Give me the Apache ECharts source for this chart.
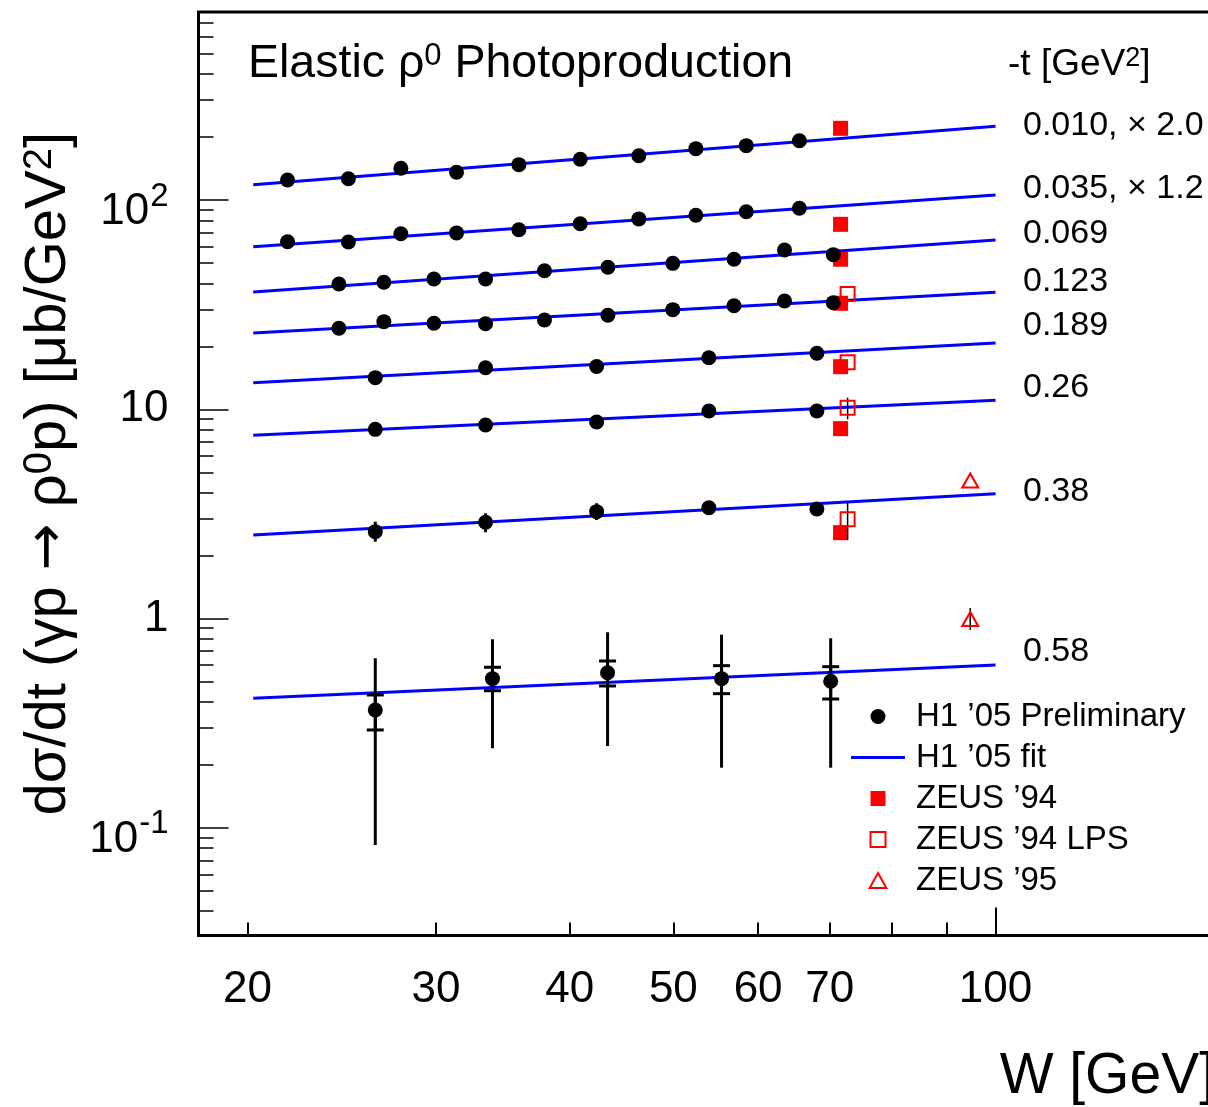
<!DOCTYPE html>
<html>
<head>
<meta charset="utf-8">
<title>Elastic rho0 photoproduction</title>
<script src="https://cdn.jsdelivr.net/npm/echarts@6.0.0/dist/echarts.min.js"></script>
<style>
html, body { margin: 0; padding: 0; background: #ffffff; }
#chart { width: 1208px; height: 1107px; }
</style>
</head>
<body>
<div id="chart"></div>
<script>
// ---------------- data ----------------
// W bins [GeV]
const wBinsA = [21.80, 24.85, 27.82, 31.36, 35.86, 40.92, 46.42, 52.48, 58.49, 65.57];
const wBinsB = [24.35, 26.82, 29.87, 33.38, 37.89, 43.43, 49.94, 56.97, 63.51, 70.54];
const wBinsC = [26.33, 33.38, 42.39, 53.97, 68.09];
const wBinsD = [26.33, 33.88, 43.40, 55.46, 70.14];

// H1 '05 preliminary dsigma/dt [mub/GeV^2] as plotted (first two bins scaled)
const h1_t010 = [124.6, 126.4, 141.7, 135.6, 147.5, 156.5, 162.8, 175.9, 181.8, 192.0];
const h1_t035 = [63.2, 63.0, 69.0, 69.6, 72.1, 77.0, 81.2, 84.5, 87.9, 91.3];
const h1_t069 = [39.7, 40.45, 41.9, 41.9, 45.9, 47.7, 49.8, 52.1, 57.7, 54.8];
const h1_t123 = [24.38, 26.22, 25.76, 25.64, 26.71, 28.12, 29.92, 31.26, 32.93, 32.31];
const h1_t189 = [14.16, 15.80, 16.0, 17.64, 18.52];
const h1_t260 = [8.02, 8.41, 8.69, 9.81, 9.81];
const h1_t380 = [2.602, 2.885, 3.242, 3.387, 3.339];
const h1_t580 = [0.3659, 0.5162, 0.5513, 0.5162, 0.5016];

// error bars
const h1_t380_lo = [2.330, 2.585, 2.959, 3.16, 3.13];
const h1_t380_hi = [2.904, 3.185, 3.555, 3.62, 3.57];
const h1_t580_statLo = [0.2936, 0.4521, 0.4764, 0.4378, 0.4128];
const h1_t580_statHi = [0.4315, 0.5853, 0.6271, 0.5957, 0.5890];
const h1_t580_totLo = [0.0828, 0.2401, 0.2461, 0.1939, 0.1939];
const h1_t580_totHi = [0.6460, 0.7962, 0.8601, 0.8378, 0.8051];

// H1 '05 fits: value at W = fitW[0] and W = fitW[1]
const fitW = [20.25, 100];
const fitStart = [118.3, 59.8, 36.35, 23.15, 13.40, 7.51, 2.508, 0.416];
const fitEnd = [224.9, 105.6, 64.4, 36.2, 20.74, 11.03, 3.953, 0.600];

// ZEUS points
const zeus94W = 71.65;
const zeus94 = [220.0, 76.5, 52.1, 32.1, 15.98, 8.08, 2.573];
const zeus94LpsW = 72.74;
const zeus94Lps = [35.56, 16.77, 10.18, 2.982];
const zeus94LpsLo = [null, null, 8.96, 2.375];
const zeus94LpsHi = [null, null, 11.36, 3.595];
const zeus95W = 94.7;
const zeus95 = [4.569, 0.9956];
const zeus95Lo = [null, 0.882];
const zeus95Hi = [null, 1.124];

// -t bin labels
const tHeader = ['-t [GeV', '2', ']'];
const tLabels = ['0.010, × 2.0', '0.035, × 1.2', '0.069', '0.123', '0.189', '0.26', '0.38', '0.58'];

// axis ticks and labels
const xMinorTicks = [20, 30, 40, 50, 60, 70, 80, 90];
const xMajorTicks = [100];
const xLabelValues = [20, 30, 40, 50, 60, 70, 100];
const yMajorTicks = [0.1, 1, 10, 100];
const yMajorBase = ['10', '1', '10', '10'];
const yMajorExp = ['-1', '', '', '2'];
const yMinorTicks = [0.04, 0.05, 0.06, 0.07, 0.08, 0.09,
  0.2, 0.3, 0.4, 0.5, 0.6, 0.7, 0.8, 0.9,
  2, 3, 4, 5, 6, 7, 8, 9,
  20, 30, 40, 50, 60, 70, 80, 90,
  200, 300, 400, 500, 600, 700, 800];

// legend names
const NAME_H1 = 'H1 ’05 Preliminary';
const NAME_FIT = 'H1 ’05 fit';
const NAME_Z94 = 'ZEUS ’94';
const NAME_LPS = 'ZEUS ’94 LPS';
const NAME_Z95 = 'ZEUS ’95';

// ---------------- layout / style ----------------
const FONT = '"Liberation Sans", Arial, Helvetica, sans-serif';
const ARROW_FONT = '"DejaVu Sans", sans-serif';
const BLACK = '#000000', BLUE = '#0000ff', RED = '#ff0000';
const tLabelY = [126, 189, 234, 282, 326, 388, 492, 652];

const h1Rows = [
  [wBinsA, h1_t010], [wBinsA, h1_t035], [wBinsB, h1_t069], [wBinsB, h1_t123],
  [wBinsC, h1_t189], [wBinsC, h1_t260], [wBinsC, h1_t380], [wBinsD, h1_t580]
];
const h1Points = [];
h1Rows.forEach(r => r[0].forEach((w, i) => h1Points.push([w, r[1][i]])));

const errTotal = [];
wBinsC.forEach((w, i) => errTotal.push([w, h1_t380_lo[i], h1_t380_hi[i]]));
wBinsD.forEach((w, i) => errTotal.push([w, h1_t580_totLo[i], h1_t580_totHi[i]]));
const errStat = wBinsD.map((w, i) => [w, h1_t580_statLo[i], h1_t580_statHi[i]]);
const errThin = [];
zeus94Lps.forEach((v, i) => { if (zeus94LpsLo[i] != null) errThin.push([zeus94LpsW, zeus94LpsLo[i], zeus94LpsHi[i]]); });
zeus95.forEach((v, i) => { if (zeus95Lo[i] != null) errThin.push([zeus95W, zeus95Lo[i], zeus95Hi[i]]); });

function errorBars(data, width, cap, z) {
  return {
    type: 'custom', silent: true, z: z, data: data,
    encode: { x: 0, y: [1, 2] },
    renderItem: function (params, api) {
      const x = api.value(0);
      const p1 = api.coord([x, api.value(1)]);
      const p2 = api.coord([x, api.value(2)]);
      const style = { stroke: BLACK, lineWidth: width, fill: null };
      const children = [{ type: 'line', shape: { x1: p1[0], y1: p1[1], x2: p2[0], y2: p2[1] }, style: style }];
      if (cap > 0) {
        children.push({ type: 'line', shape: { x1: p1[0] - cap / 2, y1: p1[1], x2: p1[0] + cap / 2, y2: p1[1] }, style: style });
        children.push({ type: 'line', shape: { x1: p2[0] - cap / 2, y1: p2[1], x2: p2[0] + cap / 2, y2: p2[1] }, style: style });
      }
      return { type: 'group', children: children };
    }
  };
}

const fitSeries = fitStart.map((v0, i) => ({
  name: NAME_FIT, type: 'line', z: 2, silent: true,
  data: [[fitW[0], v0], [fitW[1], fitEnd[i]]],
  symbol: 'none', showSymbol: false,
  lineStyle: { color: BLUE, width: 3 }, itemStyle: { color: BLUE }
}));

const GRID = { left: 198.5, top: 12, width: 1015.5, height: 923.5 };
const X_MIN = 18, X_MAX = 160, Y_MIN = 0.0306, Y_MAX = 791;

const txt = (size, extra) => Object.assign({ fontSize: size, fontFamily: FONT, fontWeight: 'normal', color: BLACK }, extra || {});

const chart = echarts.init(document.getElementById('chart'), null, { renderer: 'canvas' });
chart.setOption({
  animation: false,
  backgroundColor: '#ffffff',
  textStyle: { fontFamily: FONT, color: BLACK, fontWeight: 'normal' },
  title: {
    text: '{a|Elastic ρ}{s|0}{a| Photoproduction}',
    left: 248, top: 41, padding: 0,
    textStyle: {
      fontWeight: 'normal', fontSize: 46.5, fontFamily: FONT, color: BLACK,
      rich: {
        a: txt(46.5, { lineHeight: 46 }),
        s: txt(31, { verticalAlign: 'top', lineHeight: 34 })
      }
    }
  },
  legend: {
    orient: 'vertical', left: 851, top: 696, padding: 0, itemGap: 0,
    itemWidth: 54, itemHeight: 15, selectedMode: false,
    textStyle: { fontFamily: FONT, fontSize: 33, color: BLACK, lineHeight: 41, padding: [0, 0, 0, 6] },
    data: [
      { name: NAME_H1, icon: 'circle' },
      { name: NAME_FIT, icon: 'path://M0,0L54,0L54,3L0,3Z', itemStyle: { color: BLUE } },
      { name: NAME_Z94, icon: 'path://M0,0L10,0L10,10L0,10Z' },
      { name: NAME_LPS, icon: 'path://M0,0L10,0L10,10L0,10Z' },
      { name: NAME_Z95, icon: 'path://M5,0L10,9L0,9Z' }
    ]
  },
  grid: Object.assign({ show: true, borderColor: BLACK, borderWidth: 3, backgroundColor: 'transparent', outerBoundsMode: 'none' }, GRID),
  xAxis: [
    {
      type: 'log', logBase: 10, min: X_MIN, max: X_MAX, position: 'bottom',
      axisLine: { show: false }, splitLine: { show: false },
      axisTick: { show: true, inside: true, length: 13, lineStyle: { color: BLACK, width: 2 }, customValues: xMinorTicks },
      axisLabel: {
        show: true, margin: 32, fontSize: 44, fontFamily: FONT, color: BLACK,
        customValues: xLabelValues,
        formatter: function (v) { return String(Math.round(v)); }
      }
    },
    {
      type: 'log', logBase: 10, min: X_MIN, max: X_MAX, position: 'bottom',
      axisLine: { show: false }, splitLine: { show: false }, axisLabel: { show: false },
      axisTick: { show: true, inside: true, length: 28, lineStyle: { color: BLACK, width: 2 }, customValues: xMajorTicks }
    }
  ],
  yAxis: [
    {
      type: 'log', logBase: 10, min: Y_MIN, max: Y_MAX, position: 'left',
      axisLine: { show: false }, splitLine: { show: false },
      axisTick: { show: true, inside: true, length: 30, lineStyle: { color: BLACK, width: 1.5 }, customValues: yMajorTicks },
      axisLabel: {
        show: true, margin: 30, customValues: yMajorTicks,
        formatter: function (v) {
          const i = yMajorTicks.findIndex(t => Math.abs(Math.log10(t) - Math.log10(v)) < 1e-6);
          if (i < 0) return '';
          return yMajorExp[i] ? '{bb|' + yMajorBase[i] + '}{s|' + yMajorExp[i] + '}' : '{b|' + yMajorBase[i] + '}';
        },
        rich: {
          b: txt(44, { lineHeight: 44 }),
          bb: txt(44, { lineHeight: 44, padding: [24, 0, 0, 0] }),
          s: txt(33, { lineHeight: 33, verticalAlign: 'top', padding: [2, 0, 0, 1] })
        }
      },
      name: '{a|dσ/dt (γp }{r|→}{a| ρ}{s|0}{a|p) [μb/GeV}{s|2}{a|]}',
      nameLocation: 'middle', nameRotate: 90, nameGap: 113,
      nameTextStyle: {
        rich: {
          a: txt(58, { lineHeight: 58 }),
          r: { fontSize: 56, fontFamily: ARROW_FONT, color: BLACK, lineHeight: 58 },
          s: txt(40, { verticalAlign: 'top', lineHeight: 41 })
        }
      }
    },
    {
      type: 'log', logBase: 10, min: Y_MIN, max: Y_MAX, position: 'left',
      axisLine: { show: false }, splitLine: { show: false }, axisLabel: { show: false },
      axisTick: { show: true, inside: true, length: 15, lineStyle: { color: BLACK, width: 1.5 }, customValues: yMinorTicks }
    }
  ],
  graphic: [
    {
      type: 'text', x: 1008, y: 65,
      style: {
        text: '{a|' + tHeader[0] + '}{s|' + tHeader[1] + '}{a|' + tHeader[2] + '}',
        align: 'left', verticalAlign: 'middle',
        rich: {
          a: { fontSize: 37, fontFamily: FONT, fill: BLACK, lineHeight: 40 },
          s: { fontSize: 27, fontFamily: FONT, fill: BLACK, verticalAlign: 'top', lineHeight: 26 }
        }
      }
    },
    {
      type: 'text', x: 1215, y: 1077,
      style: { text: 'W [GeV]', font: '57px ' + FONT, fill: BLACK, align: 'right', verticalAlign: 'middle' }
    }
  ].concat(tLabels.map((t, i) => ({
    type: 'text', x: 1023, y: tLabelY[i],
    style: { text: t, font: '34px ' + FONT, fill: BLACK, align: 'left', verticalAlign: 'middle' }
  }))),
  series: fitSeries.concat([
    {
      name: NAME_Z94, type: 'scatter', z: 3, silent: true,
      data: zeus94.map(v => [zeus94W, v]),
      symbol: 'rect', symbolSize: 15, itemStyle: { color: RED, opacity: 1 }
    },
    errorBars(errTotal, 3, 0, 4),
    errorBars(errStat, 3, 17, 4),
    {
      name: NAME_H1, type: 'scatter', z: 5, silent: true,
      data: h1Points, symbol: 'circle', symbolSize: 15, itemStyle: { color: BLACK, opacity: 1 }
    },
    errorBars(errThin, 1.5, 0, 6),
    {
      name: NAME_LPS, type: 'scatter', z: 7, silent: true,
      data: zeus94Lps.map(v => [zeus94LpsW, v]),
      symbol: 'rect', symbolSize: 14,
      itemStyle: { color: 'rgba(255,255,255,0)', borderColor: RED, borderWidth: 2, opacity: 1 }
    },
    {
      name: NAME_Z95, type: 'scatter', z: 7, silent: true,
      data: zeus95.map(v => [zeus95W, v]),
      symbol: 'triangle', symbolSize: [16, 14],
      itemStyle: { color: 'rgba(255,255,255,0)', borderColor: RED, borderWidth: 2, opacity: 1 }
    }
  ])
});
</script>
</body>
</html>
